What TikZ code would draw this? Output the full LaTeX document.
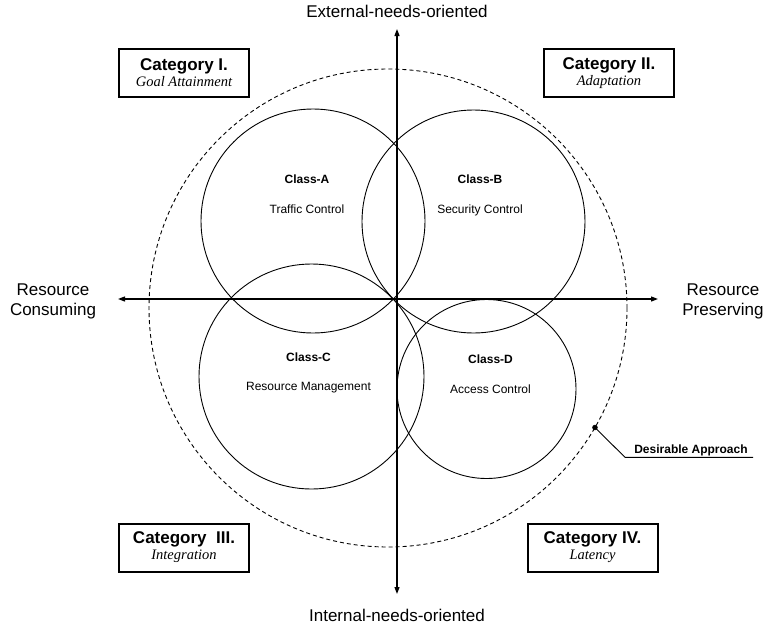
\documentclass[tikz,border=0pt]{standalone}
\usepackage{fontspec}
\setmainfont{Liberation Sans}
\newfontfamily\timesfont{Liberation Serif}
\usetikzlibrary{arrows.meta,positioning}
\newcommand\catname[2]{{\fontsize{17}{16}\selectfont\bfseries #1}\\{\timesfont\itshape #2}}

\begin{document}
\begin{tikzpicture}[
        x=1pt, y=-1pt,
        ring/.style = {draw, circle, line width=0.9pt, inner sep=0pt, outer sep=0pt},
        axis/.style = {line width=1.2pt, {Triangle[length=7pt,width=5pt]}-{Triangle[length=7pt,width=5pt]}},
        catbox/.style = {draw, line width=2pt, minimum width=130pt, minimum height=48pt, inner sep=0pt, align=center, font=\fontsize{14.5}{16}\selectfont},
        big/.style = {font=\fontsize{17}{20}\selectfont},
        cls/.style = {anchor=base, font=\fontsize{12}{14}\selectfont},
        dot/.style = {draw, circle, fill, inner sep=0pt, minimum size=5pt},
        lead/.style = {line width=0.9pt},
        ]
        \useasboundingbox (0,0) rectangle (766,627);
        \node[ring, minimum size=224pt](A) at (313,221) [] {};
        \node[ring, minimum size=223pt](B) at (473.5,221.5) [] {};
        \node[ring, minimum size=225pt](C) at (311.5,376.5) [] {};
        \node[ring, minimum size=179pt](D) at (486.5,389) [] {};
        \node[ring, dash pattern=on 4pt off 3pt, minimum size=478pt](goal) at (388,308) [] {};
        \node[cls](tA) at (307,183.3) {\textbf{Class-A}};
        \node[cls](sA) at (307,213.3) {Traffic Control};
        \node[cls](tB) at (480,183.3) {\textbf{Class-B}};
        \node[cls](sB) at (480,213.3) {Security Control};
        \node[cls](tC) at (308.5,361.3) {\textbf{Class-C}};
        \node[cls](sC) at (308.5,390.7) {Resource Management};
        \node[cls](tD) at (490.5,363.3) {\textbf{Class-D}};
        \node[cls](sD) at (490.5,393.3) {Access Control};
        \coordinate (n) at (397,29);
        \coordinate (s) at (397,594);
        \coordinate (w) at (118,299);
        \coordinate (e) at (658,299);
        \draw[axis] (w) -- (e);
        \draw[axis] (s) -- (n);
        \node[big, anchor=base](ext) at (397,17.5) {External-needs-oriented};
        \node[big, anchor=base](int) at (397,621) {Internal-needs-oriented};
        \node[big, align=center](cons) at (53,301.5) {Resource\\Consuming};
        \node[big, align=center](pres) at (723,301.5) {Resource\\Preserving};
        \node[catbox](k1) at (184,73) {\catname{Category I.}{Goal Attainment}};
        \node[catbox](k2) at (609,73) {\catname{Category II.}{Adaptation}};
        \node[catbox](k3) at (184,547.5) {\catname{Category\ \ III.}{Integration}};
        \node[catbox](k4) at (592.5,547.5) {\catname{Category IV.}{Latency}};
        \node[dot](pin) at (goal.-30) [] {};
        \coordinate (bend) at (625,457.3);
        \coordinate (tail) at (753,457.3);
        \draw[lead] (pin.center) -- (bend) -- (tail);
        \node[cls, font=\fontsize{12}{14}\selectfont\bfseries](tag) at (691,453.3) {Desirable Approach};
\end{tikzpicture}
\end{document}
